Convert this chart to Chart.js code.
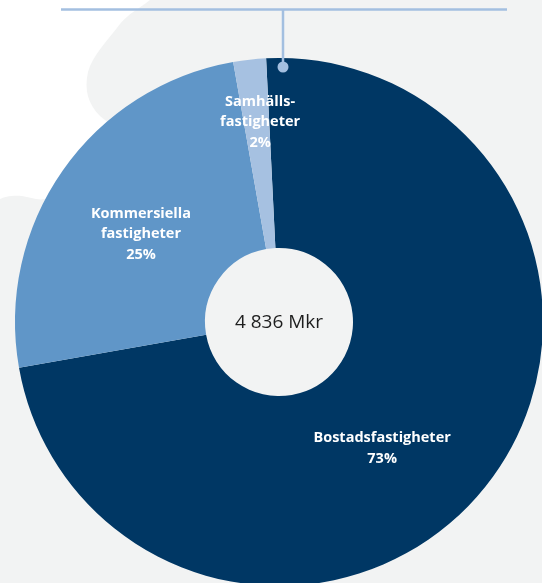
<!DOCTYPE html>
<html lang="sv">
<head>
<meta charset="utf-8">
<title>Fastighetsbestånd per kategori</title>
<script src="https://cdn.jsdelivr.net/npm/chart.js@4/dist/chart.umd.min.js"></script>
<style>
  html, body { margin: 0; padding: 0; width: 542px; height: 583px; overflow: hidden; background: #f2f3f3; }
  #wrap { position: absolute; left: 0; top: 0; width: 600px; height: 650px; }
</style>
</head>
<body>
<div id="wrap"><canvas id="chart" width="600" height="650"></canvas></div>
<script>
// Fastighetsbestånd, andel per kategori (procent av totalt värde)
const categories = ['Bostadsfastigheter', 'Kommersiella fastigheter', 'Samhällsfastigheter'];
const labelLines = [['Bostadsfastigheter'], ['Kommersiella', 'fastigheter'], ['Samhälls-', 'fastigheter']];
const shares = [73, 25, 2];
const totalLabel = '4 836 Mkr';

const sliceColors = ['#003764', '#6096c8', '#a6c1e1'];
const accent = '#a3bfe0';
// where each slice label sits: fraction of outer radius, angular shift (deg) from slice middle
const labelPlacement = [
  { r: 0.618, shift: 12.2 },
  { r: 0.62, shift: -2.5 },
  { r: 0.761, shift: 1.0 }
];

// light backdrop with a white shape in the upper left corner
const backdrop = {
  id: 'backdrop',
  beforeDraw(chart) {
    const c = chart.ctx;
    c.save();
    c.fillStyle = '#f2f3f3';
    c.fillRect(0, 0, chart.width, chart.height);
    c.fillStyle = '#ffffff';
    c.beginPath();
    c.moveTo(0, 0);
    c.lineTo(150, 0);
    c.bezierCurveTo(140, 8, 128, 14, 120, 24);
    c.bezierCurveTo(108, 40, 92, 56, 88, 72);
    c.bezierCurveTo(84, 90, 88, 104, 100, 116);
    c.lineTo(110, 124);
    c.lineTo(60, 190);
    c.bezierCurveTo(45, 205, 35, 198, 22, 196);
    c.bezierCurveTo(12, 195, 4, 197, 0, 199);
    c.closePath();
    c.fill();
    c.restore();
  }
};

// slice labels, centre total and the leader line at the top
const overlay = {
  id: 'overlay',
  afterDraw(chart) {
    const c = chart.ctx;
    const arcs = chart.getDatasetMeta(0).data;
    const cx = arcs[0].x, cy = arcs[0].y;
    const R = arcs[0].outerRadius;
    c.save();

    // leader line
    c.strokeStyle = accent;
    c.lineWidth = 2.5;
    c.beginPath();
    c.moveTo(61, 9.5);
    c.lineTo(507, 9.5);
    c.stroke();
    const dx = cx + 4, dy = cy - R + 9;
    c.beginPath();
    c.moveTo(dx, 9.5);
    c.lineTo(dx, dy);
    c.stroke();
    c.fillStyle = accent;
    c.beginPath();
    c.arc(dx, dy, 5.5, 0, Math.PI * 2);
    c.fill();

    // slice labels
    c.fillStyle = '#ffffff';
    c.font = '700 14.5px "Open Sans", sans-serif';
    c.textAlign = 'center';
    c.textBaseline = 'middle';
    const lh = 20.5;
    arcs.forEach((arc, i) => {
      const mid = (arc.startAngle + arc.endAngle) / 2 + labelPlacement[i].shift * Math.PI / 180;
      const rr = R * labelPlacement[i].r;
      const x = cx + Math.cos(mid) * rr;
      const y = cy + Math.sin(mid) * rr;
      const lines = labelLines[i].concat([shares[i] + '%']);
      const y0 = y - (lines.length - 1) * lh / 2;
      lines.forEach((t, k) => c.fillText(t, x, y0 + k * lh));
    });

    // total in the hole
    c.fillStyle = '#1e1e1e';
    c.font = '400 19px "Open Sans", sans-serif';
    c.fillText(totalLabel, cx, cy + 1);
    c.restore();
  }
};

new Chart(document.getElementById('chart'), {
  type: 'doughnut',
  data: {
    labels: categories,
    datasets: [{
      data: shares,
      backgroundColor: sliceColors,
      borderWidth: 0,
      hoverOffset: 0
    }]
  },
  options: {
    responsive: false,
    animation: false,
    rotation: -2.8,
    cutout: 74,
    layout: { padding: { left: 15, top: 58, right: 57, bottom: 64 } },
    plugins: { legend: { display: false }, tooltip: { enabled: false } },
    events: []
  },
  plugins: [backdrop, overlay]
});
</script>
</body>
</html>
